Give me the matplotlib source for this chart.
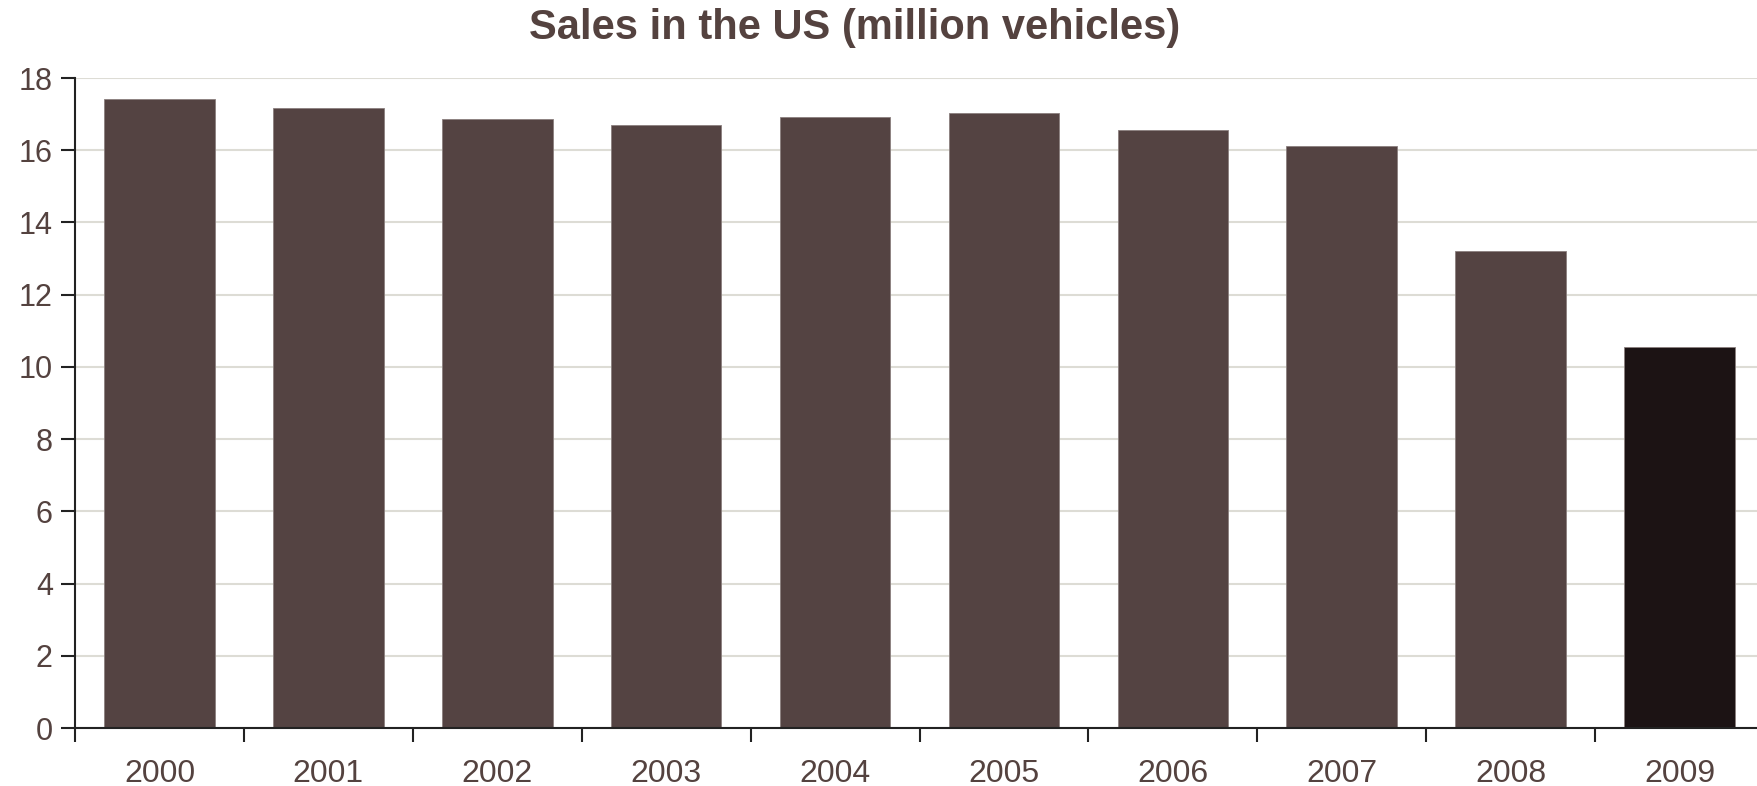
import numpy as np
import matplotlib.pyplot as plt

years = ["2000", "2001", "2002", "2003", "2004", "2005", "2006", "2007", "2008", "2009"]
sales = [17.43, 17.16, 16.87, 16.71, 16.92, 17.03, 16.56, 16.13, 13.21, 10.55]
y_ticks = [0, 2, 4, 6, 8, 10, 12, 14, 16, 18]

text_col = "#54423f"
bar_col = "#544342"
last_col = "#1c1314"

plt.rcParams["font.family"] = ["Liberation Sans", "DejaVu Sans"]

W, H = 1757, 786
fig = plt.figure(figsize=(W / 100, H / 100), dpi=100)
ax = fig.add_axes([75 / W, (H - 728) / H, (1764 - 75) / W, (728 - 78) / H])

x = np.arange(len(years))
colors = [bar_col] * (len(years) - 1) + [last_col]
ax.bar(x, sales, width=0.655, color=colors, edgecolor="#8a7f7e", linewidth=0.6, zorder=2)

ax.set_xlim(-0.5, len(years) - 0.5)
ax.set_ylim(0, 18)

ax.set_yticks(y_ticks)
ax.set_yticklabels([str(v) for v in y_ticks])
ax.yaxis.grid(True, color="#dddcd5", linewidth=1.5, zorder=0)
ax.set_axisbelow(True)

# ticks on category boundaries, labels in the middle
ax.set_xticks(np.arange(len(years) + 1) - 0.5)
ax.set_xticklabels([])
ax.set_xticks(x, minor=True)
ax.set_xticklabels(years, minor=True)
ax.tick_params(axis="x", which="minor", length=0, pad=22, labelsize=23, labelcolor=text_col)
ax.tick_params(axis="x", which="major", length=10, width=1.5, color="#222")
ax.tick_params(axis="y", length=10, width=1.5, color="#222", labelsize=22, labelcolor=text_col, pad=6)

for s in ["top", "right"]:
    ax.spines[s].set_visible(False)
for s in ["left", "bottom"]:
    ax.spines[s].set_linewidth(1.5)
    ax.spines[s].set_color("#222")
    ax.spines[s].set_zorder(3)

fig.text(855 / W, 1 - 8 / H, "Sales in the US (million vehicles)", ha="center", va="top",
         fontsize=30, fontweight="bold", color=text_col)

fig.savefig("out.png", dpi=100)
